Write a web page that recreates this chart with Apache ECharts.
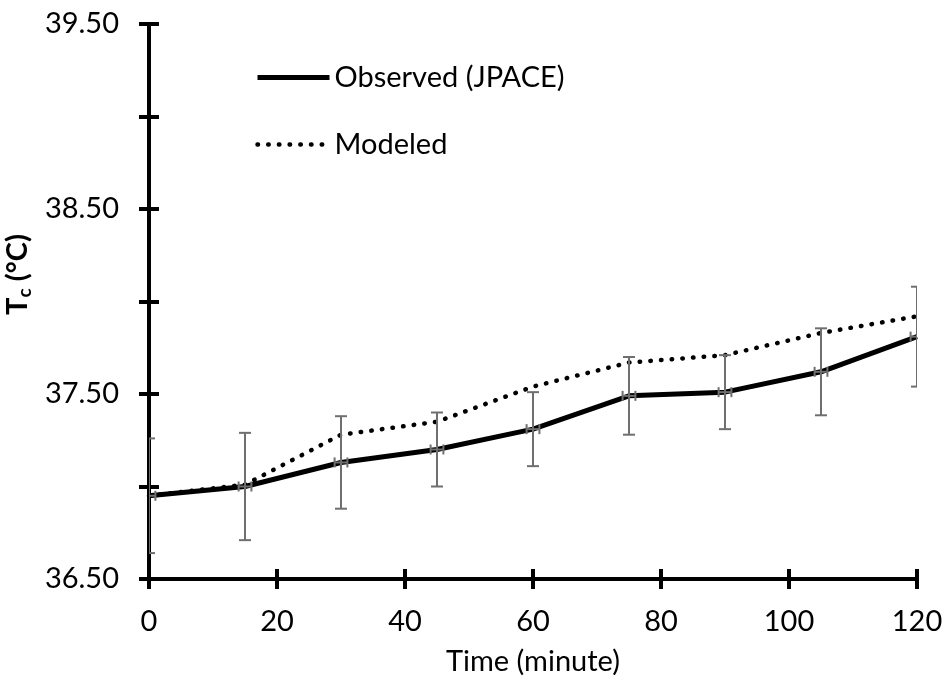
<!DOCTYPE html>
<html>
<head>
<meta charset="utf-8">
<script src="https://cdn.jsdelivr.net/npm/echarts@6/dist/echarts.min.js"></script>
<style>html,body{margin:0;padding:0;background:#fff}#c{width:945px;height:680px}</style>
</head>
<body>
<div id="c"></div>
<script>
const timeMinutes = [0, 15, 30, 45, 60, 75, 90, 105, 120];
const observedTc = [36.95, 37.00, 37.13, 37.20, 37.31, 37.49, 37.51, 37.62, 37.81];
const modeledTc = [36.95, 37.01, 37.28, 37.35, 37.54, 37.67, 37.71, 37.83, 37.92];
const observedErrY = [0.31, 0.29, 0.25, 0.20, 0.20, 0.21, 0.20, 0.235, 0.27];
const observedErrX = [1, 1, 1, 1, 1, 1, 1, 1, 1];
const seriesNames = ['Observed (JPACE)', 'Modeled'];

const FONT = 'Lato';
const FS = 29;
const chart = echarts.init(document.getElementById('c'), null, {renderer: 'canvas'});

const errData = timeMinutes.map((t, i) => [t, observedTc[i], observedErrY[i], observedErrX[i]]);
const axisLineStyle = {color: '#000', width: 4};
const tickStyle = {color: '#000', width: 4};
const solidStyle = {color: '#000', width: 5};
const dotStyle = {color: '#000', width: 4.5, type: [0.5, 10.2], cap: 'round'};

const option = {
  backgroundColor: '#fff',
  animation: false,
  grid: {left: 149, right: 28, top: 24, bottom: 101, containLabel: false, outerBoundsMode: 'none'},
  legend: {
    orient: 'vertical', left: 250, top: 58,
    itemWidth: 72, itemHeight: 14, itemGap: 38,
    itemStyle: {opacity: 0},
    textStyle: {fontFamily: FONT, fontSize: FS, color: '#000', lineHeight: 29},
    data: [
      {name: seriesNames[0], lineStyle: solidStyle, itemStyle: {opacity: 0}},
      {name: seriesNames[1], lineStyle: dotStyle, itemStyle: {opacity: 0}}
    ]
  },
  xAxis: [{
    type: 'value', min: 0, max: 120, interval: 20,
    name: 'Time (minute)', nameLocation: 'middle', nameGap: 68,
    nameTextStyle: {fontFamily: FONT, fontSize: FS, color: '#000', lineHeight: 29},
    axisLine: {show: true, lineStyle: axisLineStyle},
    axisTick: {show: true, length: 10, lineStyle: tickStyle},
    axisLabel: {fontFamily: FONT, fontSize: FS, color: '#000', margin: 28, lineHeight: 29},
    splitLine: {show: false}
  }, {
    type: 'value', min: 0, max: 120, interval: 20, position: 'bottom',
    axisLine: {show: false},
    axisTick: {show: true, inside: true, length: 10, lineStyle: tickStyle},
    axisLabel: {show: false}, splitLine: {show: false}
  }],
  yAxis: [{
    type: 'value', min: 36.5, max: 39.5, interval: 0.5,
    name: '{b|T}{s|c}{b| (°C)}', nameLocation: 'middle', nameGap: 93, nameRotate: 90,
    nameTextStyle: {padding: [0, 0, 0, 54], rich: {
      b: {fontFamily: FONT, fontSize: FS, fontWeight: 'bold', color: '#000'},
      s: {fontFamily: FONT, fontSize: 19, fontWeight: 'bold', color: '#000', verticalAlign: 'bottom', padding: [14, 0, 0, 0]}
    }},
    axisLine: {show: true, lineStyle: axisLineStyle},
    axisTick: {show: true, length: 10, lineStyle: tickStyle},
    axisLabel: {fontFamily: FONT, fontSize: FS, color: '#000', margin: 30,
      formatter: v => (Math.round(v * 2) % 2 === 1 ? v.toFixed(2) : '')},
    splitLine: {show: false}
  }, {
    type: 'value', min: 36.5, max: 39.5, interval: 0.5, position: 'left',
    axisLine: {show: false},
    axisTick: {show: true, inside: true, length: 10, lineStyle: tickStyle},
    axisLabel: {show: false}, splitLine: {show: false}
  }],
  series: [{
    name: seriesNames[0], type: 'line',
    data: timeMinutes.map((t, i) => [t, observedTc[i]]),
    symbol: 'none', lineStyle: solidStyle, itemStyle: {color: '#000'}, z: 3
  }, {
    name: seriesNames[1], type: 'line',
    data: timeMinutes.map((t, i) => [t, modeledTc[i]]),
    symbol: 'none', lineStyle: dotStyle, itemStyle: {color: '#000'}, z: 3
  }, {
    name: 'err', type: 'custom', clip: true, z: 4,
    data: errData,
    renderItem: function (params, api) {
      const x = api.value(0), y = api.value(1), ey = api.value(2), ex = api.value(3);
      const top = api.coord([x, y + ey]), bot = api.coord([x, y - ey]);
      const l = api.coord([x - ex, y]), r = api.coord([x + ex, y]);
      const cw = 6, ch = 5;
      const st = {stroke: '#6f6f6f', lineWidth: 2};
      const ln = (x1, y1, x2, y2) => ({type: 'line', shape: {x1, y1, x2, y2}, style: st});
      return {type: 'group', children: [
        ln(top[0], top[1], bot[0], bot[1]),
        ln(top[0] - cw, top[1], top[0] + cw, top[1]),
        ln(bot[0] - cw, bot[1], bot[0] + cw, bot[1]),
        ln(l[0], l[1], r[0], r[1]),
        ln(l[0], l[1] - ch, l[0], l[1] + ch),
        ln(r[0], r[1] - ch, r[0], r[1] + ch)
      ]};
    }
  }]
};
chart.setOption(option);
</script>
</body>
</html>
